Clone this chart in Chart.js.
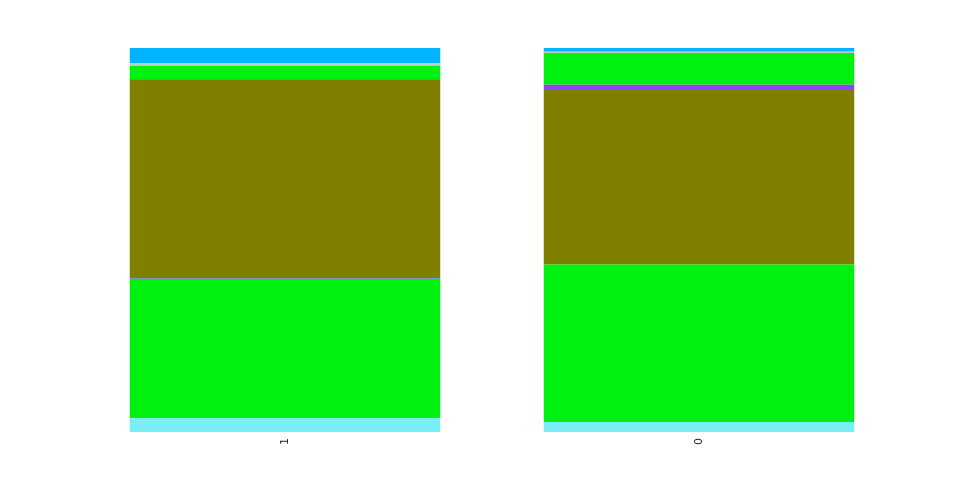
<!DOCTYPE html>
<html>
<head>
<meta charset="utf-8">
<script src="https://cdn.jsdelivr.net/npm/chart.js@4/dist/chart.umd.min.js"></script>
<style>
html,body{margin:0;padding:0;background:#fff;}
#c{display:block;}
</style>
</head>
<body>
<canvas id="c" width="960" height="480"></canvas>
<script>
const categories = ["1", "0"];
const seriesNames = ["s1", "s2", "s3", "s4", "s5", "s6", "s7", "s8"];
const s1 = [3.6, 2.6];
const s2 = [36.3, 41.0];
const s3 = [0.2, 0.0];
const s4 = [51.6, 45.7];
const s5 = [0.2, 1.1];
const s6 = [3.5, 8.3];
const s7 = [0.7, 0.35];
const s8 = [3.9, 0.95];
const seriesValues = [s1, s2, s3, s4, s5, s6, s7, s8];
const seriesColors = ["#7aeef5", "#00f010", "#9040ff", "#808000", "#9040ff", "#00f010", "#c8c8c8", "#00b4ff"];

const datasets = seriesValues.map((v, i) => ({
  label: seriesNames[i],
  data: v,
  backgroundColor: seriesColors[i],
  borderWidth: 0,
  categoryPercentage: 0.75,
  barPercentage: 1.0
}));

new Chart(document.getElementById('c'), {
  type: 'bar',
  data: { labels: categories, datasets: datasets },
  options: {
    responsive: false,
    animation: false,
    layout: { padding: { left: 78, right: 54, top: 48, bottom: 29 } },
    plugins: { legend: { display: false }, tooltip: { enabled: false } },
    scales: {
      x: {
        stacked: true,
        grid: { display: false, drawTicks: false },
        border: { display: false },
        ticks: { minRotation: 90, maxRotation: 90, padding: 6, color: '#222', font: { family: 'DejaVu Sans', size: 11 } }
      },
      y: {
        stacked: true,
        display: false,
        min: 0,
        max: 100
      }
    }
  }
});
</script>
</body>
</html>
